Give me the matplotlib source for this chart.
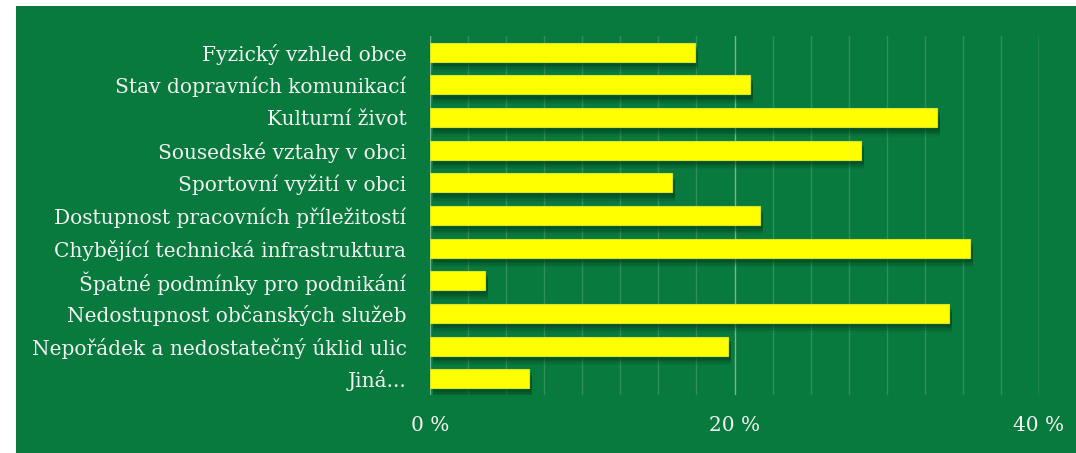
import matplotlib.pyplot as plt
import matplotlib.patches as mpatches
import matplotlib.patheffects as pe
from matplotlib.ticker import MultipleLocator, FuncFormatter

categories = [
    "Fyzický vzhled obce",
    "Stav dopravních komunikací",
    "Kulturní život",
    "Sousedské vztahy v obci",
    "Sportovní vyžití v obci",
    "Dostupnost pracovních příležitostí",
    "Chybějící technická infrastruktura",
    "Špatné podmínky pro podnikání",
    "Nedostupnost občanských služeb",
    "Nepořádek a nedostatečný úklid ulic",
    "Jiná...",
]
values = [17.4, 21.0, 33.3, 28.3, 15.9, 21.7, 35.5, 3.6, 34.1, 19.6, 6.5]

green = "#097a3d"
txt = "#f2f2f2"

plt.rcParams["font.family"] = ["DejaVu Serif"]

fig = plt.figure(figsize=(10.76, 4.53), dpi=100)
fig.patch.set_facecolor("white")
bg = mpatches.Rectangle((16 / 1076, 0), 1 - 16 / 1076, 1 - 6 / 453,
                        transform=fig.transFigure, facecolor=green,
                        edgecolor="none", zorder=-10)
fig.add_artist(bg)

ax = fig.add_axes([430 / 1076, 1 - 395 / 453, 609 / 1076, 359 / 453])
ax.set_facecolor("none")

# soft drop shadow under the bars
shadow = [pe.SimplePatchShadow(offset=(2, -d), shadow_rgbFace="#02361a", alpha=a)
          for d, a in [(7, 0.08), (6, 0.1), (5, 0.14), (4, 0.18), (3, 0.22)]]
y = list(range(len(categories)))
bars = ax.barh(y, values, height=0.58, color="#ffff00", edgecolor="#d8e62a",
               linewidth=0.8, zorder=3)
for b in bars:
    b.set_path_effects(shadow + [pe.Normal()])

ax.set_xlim(0, 40)
ax.set_ylim(len(categories) - 0.5, -0.5)
ax.set_yticks(y)
ax.set_yticklabels(categories)
ax.xaxis.set_major_locator(MultipleLocator(20))
ax.xaxis.set_minor_locator(MultipleLocator(2.5))
ax.xaxis.set_major_formatter(FuncFormatter(lambda v, p: f"{v:.0f} %"))
ax.grid(axis="x", which="minor", color="white", alpha=0.16, linewidth=1)
ax.grid(axis="x", which="major", color="white", alpha=0.45, linewidth=1)
ax.set_axisbelow(True)

for s in ax.spines.values():
    s.set_visible(False)
ax.tick_params(axis="both", which="both", length=0, colors=txt, labelsize=14.5)
ax.tick_params(axis="y", pad=17)
ax.tick_params(axis="x", pad=15)

fig.savefig("out.png", dpi=100, facecolor=fig.get_facecolor())
